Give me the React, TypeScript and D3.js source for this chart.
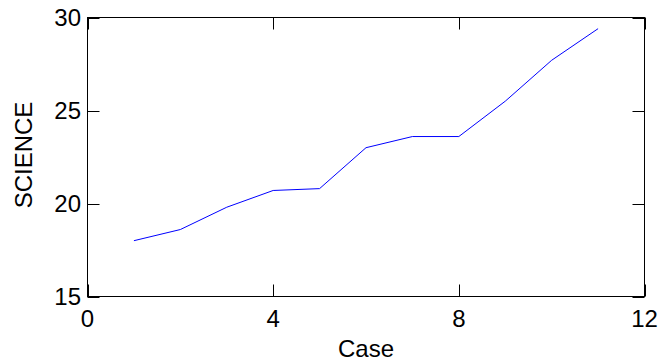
import React from "react";
import * as d3 from "d3";

const cases = [1, 2, 3, 4, 5, 6, 7, 8, 9, 10, 11];
const science = [18.0, 18.6, 19.8, 20.7, 20.8, 23.0, 23.6, 23.6, 25.5, 27.7, 29.4];
const xTicks = [0, 4, 8, 12];
const yTicks = [15, 20, 25, 30];

export default function App() {
  const W = 663, H = 362;
  const left = 87.5, right = 644.5, top = 17.5, bottom = 296.5;
  const x = d3.scaleLinear().domain([0, 12]).range([left, right]);
  const y = d3.scaleLinear().domain([15, 30]).range([bottom, top]);
  const line = d3.line<number>().x((_, i) => x(cases[i])).y((d) => y(d));
  const tl = 12;
  const font = "Liberation Sans, Arial, sans-serif";
  const fs = 24;
  return (
    <svg width={W} height={H} style={{ position: "absolute", left: 0, top: 0, background: "#fff" }}>
      <rect x={left} y={top} width={right - left} height={bottom - top} fill="none" stroke="#000" strokeWidth={1} />
      {xTicks.map((t) => (
        <g key={"x" + t}>
          <line x1={Math.round(x(t)) + 0.5} x2={Math.round(x(t)) + 0.5} y1={bottom} y2={bottom - tl} stroke="#000" />
          <line x1={Math.round(x(t)) + 0.5} x2={Math.round(x(t)) + 0.5} y1={top} y2={top + tl} stroke="#000" />
          <text x={x(t)} y={327} fontSize={fs} fontFamily={font} textAnchor="middle">{t}</text>
        </g>
      ))}
      {yTicks.map((t) => (
        <g key={"y" + t}>
          <line x1={left} x2={left + tl} y1={Math.round(y(t)) + 0.5} y2={Math.round(y(t)) + 0.5} stroke="#000" />
          <line x1={right} x2={right - tl} y1={Math.round(y(t)) + 0.5} y2={Math.round(y(t)) + 0.5} stroke="#000" />
          <text x={81} y={y(t) + 8.5} fontSize={fs} fontFamily={font} textAnchor="end">{t}</text>
        </g>
      ))}
      <path d={line(science) || ""} fill="none" stroke="#0000ff" strokeWidth={1} />
      <text x={366} y={357} fontSize={fs} fontFamily={font} textAnchor="middle">Case</text>
      <text transform={`translate(32,155) rotate(-90)`} fontSize={fs} fontFamily={font} textAnchor="middle">SCIENCE</text>
    </svg>
  );
}
